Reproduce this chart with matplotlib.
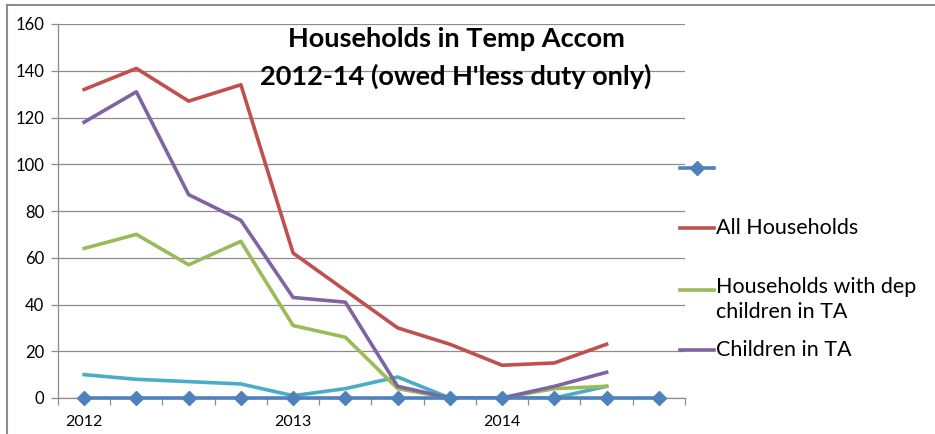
import matplotlib
matplotlib.use("Agg")
import matplotlib.pyplot as plt
from matplotlib.lines import Line2D

plt.rcParams['font.family'] = ['Lato', 'DejaVu Sans']

# Data (quarterly, 2012-2014)
quarters = list(range(12))
tick_labels = ["2012", "", "", "", "2013", "", "", "", "2014", "", "", ""]
blank_series = [0, 0, 0, 0, 0, 0, 0, 0, 0, 0, 0, 0]
all_households = [132, 141, 127, 134, 62, 46, 30, 23, 14, 15, 23]
dep_children_hh = [64, 70, 57, 67, 31, 26, 4, 0, 0, 4, 5]
children_in_ta = [118, 131, 87, 76, 43, 41, 5, 0, 0, 5, 11]
other_series = [10, 8, 7, 6, 1, 4, 9, 0, 0, 0, 5]

legend_labels = ["", "All Households", "Households with dep\nchildren in TA", "Children in TA"]

c_blue = "#4F81BD"
c_red = "#C0504D"
c_green = "#9BBB59"
c_purple = "#8064A2"
c_cyan = "#4BACC6"

W, H = 935, 434
fig = plt.figure(figsize=(W / 100, H / 100), dpi=100)
ax = fig.add_axes([58 / W, 36 / H, (685 - 58) / W, (398 - 24) / H])

lw = 2.6
ax.plot(quarters[:len(other_series)], other_series, color=c_cyan, lw=lw, zorder=3)
ax.plot(quarters[:len(dep_children_hh)], dep_children_hh, color=c_green, lw=lw, zorder=3)
ax.plot(quarters[:len(children_in_ta)], children_in_ta, color=c_purple, lw=lw, zorder=3)
ax.plot(quarters[:len(all_households)], all_households, color=c_red, lw=lw, zorder=3)
ax.plot(quarters, blank_series, color=c_blue, lw=lw, marker="D", markersize=7,
        zorder=4, clip_on=False)

ax.set_xlim(-0.5, 11.5)
ax.set_ylim(0, 160)
ax.set_yticks(range(0, 161, 20))
ax.yaxis.grid(True, color="#8c8c8c", lw=0.9)
ax.set_axisbelow(True)

# labels under categories, tick marks at category boundaries
ax.set_xticks(quarters)
ax.set_xticklabels(tick_labels)
ax.set_xticks([i - 0.5 for i in range(13)], minor=True)
ax.tick_params(axis="x", which="major", length=0, pad=12, labelsize=11.5)
ax.tick_params(axis="x", which="minor", direction="out", length=5, color="#8c8c8c", width=0.9)
ax.tick_params(axis="y", direction="out", length=5, color="#8c8c8c", width=0.9, labelsize=12, pad=5)

for s in ["top", "right"]:
    ax.spines[s].set_visible(False)
for s in ["left", "bottom"]:
    ax.spines[s].set_color("#8c8c8c")
    ax.spines[s].set_linewidth(0.9)

# title
fig.text(456 / W, 1 - 39 / H, "Households in Temp Accom", ha="center", va="center",
         fontsize=19.5, fontweight="bold")
fig.text(456 / W, 1 - 76 / H, "2012-14 (owed H'less duty only)", ha="center", va="center",
         fontsize=19.5, fontweight="bold")

# legend drawn by hand to keep Excel-like positions
leg_colors = [c_blue, c_red, c_green, c_purple]
leg_y = [168, 228, 290, 350]
for col, lab, y in zip(leg_colors, legend_labels, leg_y):
    yy = 1 - y / H
    fig.add_artist(Line2D([680 / W, 714 / W], [yy, yy], color=col, lw=lw,
                          transform=fig.transFigure))
    if col == c_blue:
        fig.add_artist(Line2D([697 / W], [yy], color=col, marker="D", markersize=7,
                              transform=fig.transFigure))
    if "\n" in lab:
        fig.text(716 / W, yy + 13 / H, lab, ha="left", va="top", fontsize=15.5,
                 linespacing=1.3)
    else:
        fig.text(716 / W, yy, lab, ha="left", va="center", fontsize=15.5)

# chart area frame (top and left edges visible)
fig.add_artist(Line2D([7 / W, 1], [1 - 5 / H, 1 - 5 / H], color="#8c8c8c", lw=1.5,
                      transform=fig.transFigure))
fig.add_artist(Line2D([7 / W, 7 / W], [0, 1 - 5 / H], color="#8c8c8c", lw=1.5,
                      transform=fig.transFigure))

fig.savefig("out.png", dpi=100)
